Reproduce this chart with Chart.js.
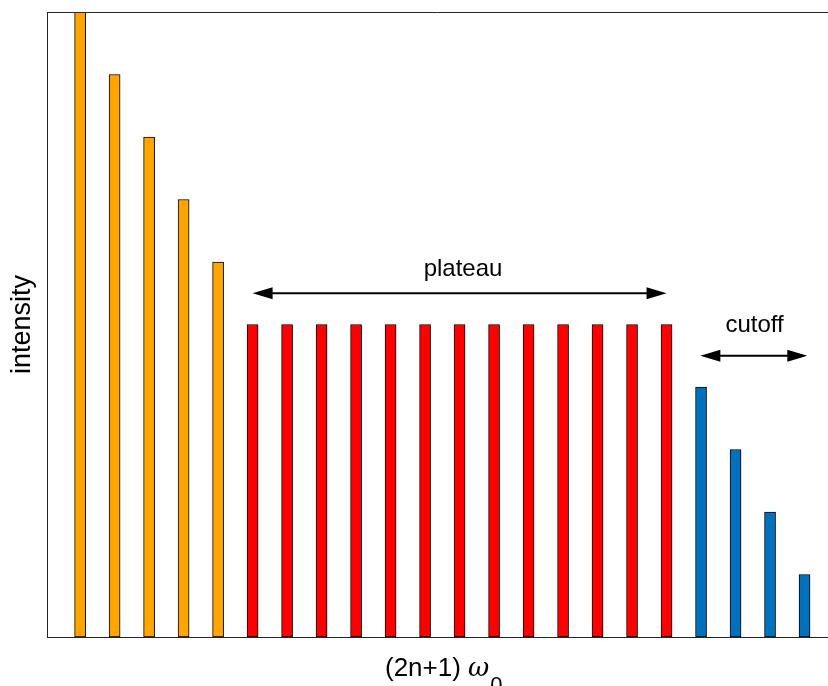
<!DOCTYPE html>
<html>
<head>
<meta charset="utf-8">
<script src="https://cdn.jsdelivr.net/npm/chart.js@4"></script>
<style>
  html, body { margin: 0; padding: 0; background: #fff; }
  #wrap { width: 828px; height: 686px; }
</style>
</head>
<body>
<div id="wrap"><canvas id="chart"></canvas></div>
<script>
// harmonic index and intensity per region
const lowX = [1, 2, 3, 4, 5];
const lowY = [10, 9, 8, 7, 6];
const plateauX = [6, 7, 8, 9, 10, 11, 12, 13, 14, 15, 16, 17, 18];
const plateauY = [5, 5, 5, 5, 5, 5, 5, 5, 5, 5, 5, 5, 5];
const cutoffX = [19, 20, 21, 22];
const cutoffY = [4, 3, 2, 1];

const FONT = "'Liberation Sans', Arial, Helvetica, sans-serif";
const AXIS = "#262626";

const pts = (xs, ys) => xs.map((x, i) => ({ x: x, y: ys[i] }));

function arrow(ctx, x1, x2, y) {
  const len = 20, hw = 6;
  ctx.beginPath();
  ctx.moveTo(x1 + len - 2, y);
  ctx.lineTo(x2 - len + 2, y);
  ctx.lineWidth = 2;
  ctx.strokeStyle = "#000";
  ctx.stroke();
  ctx.beginPath();
  ctx.moveTo(x1, y);
  ctx.lineTo(x1 + len, y - hw);
  ctx.lineTo(x1 + len, y + hw);
  ctx.closePath();
  ctx.moveTo(x2, y);
  ctx.lineTo(x2 - len, y - hw);
  ctx.lineTo(x2 - len, y + hw);
  ctx.closePath();
  ctx.fillStyle = "#000";
  ctx.fill();
}

const extras = {
  id: "extras",
  afterDraw(chart) {
    const ctx = chart.ctx;
    const a = chart.chartArea;
    const xs = chart.scales.x, ys = chart.scales.y;
    ctx.save();
    // top frame line
    ctx.beginPath();
    ctx.moveTo(a.left, a.top + 0.5);
    ctx.lineTo(a.right, a.top + 0.5);
    ctx.strokeStyle = AXIS;
    ctx.lineWidth = 1;
    ctx.stroke();

    // plateau / cutoff arrows
    arrow(ctx, xs.getPixelForValue(6), xs.getPixelForValue(18), ys.getPixelForValue(5.5));
    arrow(ctx, xs.getPixelForValue(18.98), xs.getPixelForValue(22.08), ys.getPixelForValue(4.5));

    ctx.fillStyle = "#000";
    ctx.font = "24px " + FONT;
    ctx.textAlign = "center";
    ctx.textBaseline = "middle";
    ctx.fillText("plateau", xs.getPixelForValue(12.1), ys.getPixelForValue(5.89));
    ctx.fillText("cutoff", xs.getPixelForValue(20.55), ys.getPixelForValue(4.98));

    // x axis label with subscript
    ctx.textAlign = "left";
    ctx.textBaseline = "alphabetic";
    ctx.font = "26px " + FONT;
    const part1 = "(2n+1) ";
    ctx.fillText(part1, 385, 676);
    let x = 385 + ctx.measureText(part1).width;
    ctx.font = "italic 26px 'DejaVu Serif', serif";
    ctx.fillText("\u03c9", x, 676);
    x += ctx.measureText("\u03c9").width + 1;
    ctx.font = "22px " + FONT;
    ctx.fillText("0", x, 692);
    ctx.restore();
  }
};

const barStyle = { borderColor: "#000", borderWidth: 1, barThickness: 11, borderSkipped: false };

new Chart(document.getElementById("chart"), {
  type: "bar",
  data: {
    datasets: [
      Object.assign({ data: pts(lowX, lowY), backgroundColor: "#FFA500" }, barStyle),
      Object.assign({ data: pts(plateauX, plateauY), backgroundColor: "#FF0000" }, barStyle),
      Object.assign({ data: pts(cutoffX, cutoffY), backgroundColor: "#0072BD" }, barStyle)
    ]
  },
  options: {
    responsive: true,
    maintainAspectRatio: false,
    animation: false,
    grouped: false,
    layout: { padding: { top: 12, right: 0, left: 0, bottom: 0 } },
    plugins: { legend: { display: false }, tooltip: { enabled: false } },
    scales: {
      x: {
        type: "linear",
        offset: false,
        min: 0.04,
        max: 22.68,
        grid: { display: false, drawTicks: false, offset: false },
        ticks: { display: false },
        border: { display: true, color: AXIS, width: 1 },
        afterFit(scale) { scale.height = 49; }
      },
      y: {
        min: 0,
        max: 10,
        grid: { display: false, drawTicks: false },
        ticks: { display: false },
        border: { display: true, color: AXIS, width: 1 },
        title: {
          display: true,
          text: "intensity",
          color: "#000",
          font: { family: FONT, size: 27 },
          padding: { top: 6, bottom: 0 }
        },
        afterFit(scale) { scale.width = 47; }
      }
    }
  },
  plugins: [extras]
});
</script>
</body>
</html>
